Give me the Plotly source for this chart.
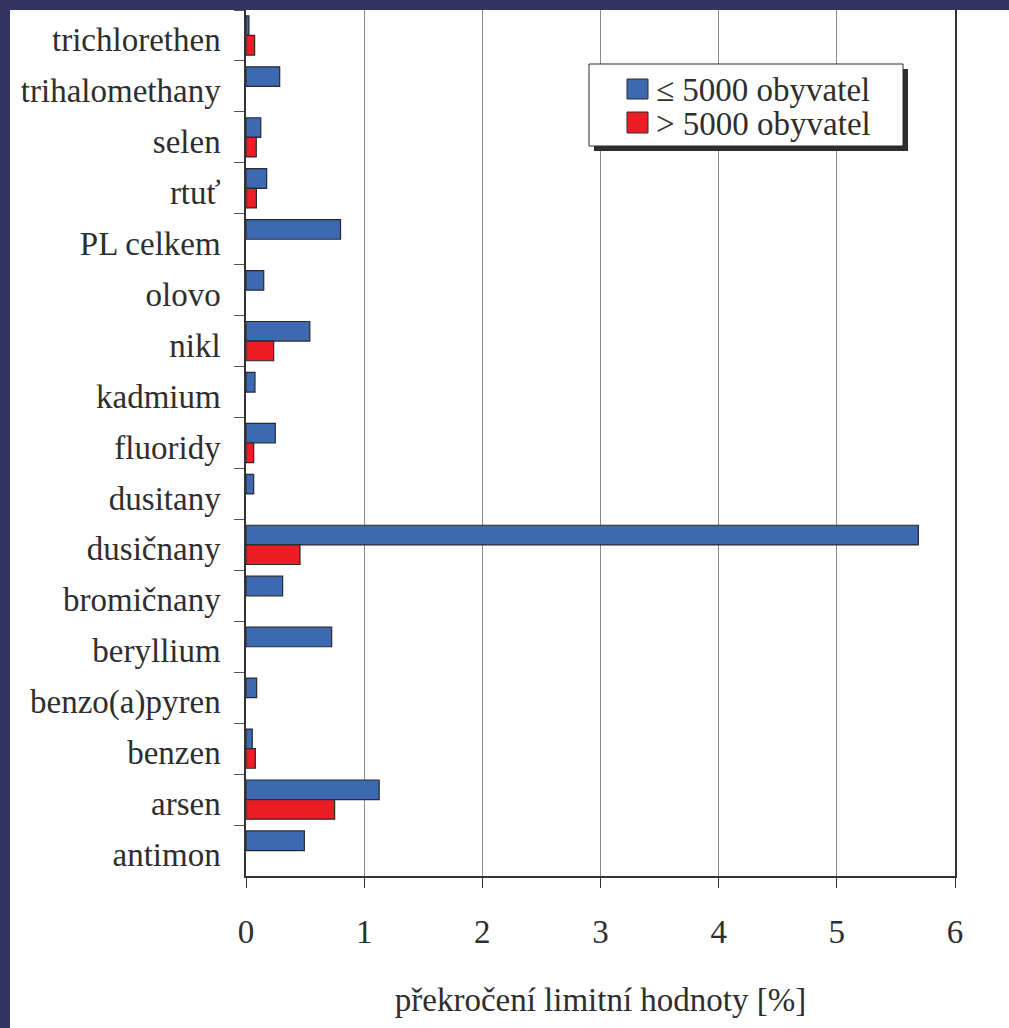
import plotly.graph_objects as go

categories = ["trichlorethen", "trihalomethany", "selen", "rtuť", "PL celkem", "olovo",
              "nikl", "kadmium", "fluoridy", "dusitany", "dusičnany", "bromičnany",
              "beryllium", "benzo(a)pyren", "benzen", "arsen", "antimon"]
small_towns = [0.025, 0.285, 0.125, 0.175, 0.80, 0.15, 0.54, 0.076, 0.248, 0.065,
               5.69, 0.31, 0.725, 0.09, 0.053, 1.127, 0.494]
large_towns = [0.073, None, 0.087, 0.088, None, None, 0.234, None, 0.065, None,
               0.457, None, None, None, 0.079, 0.75, None]
series_names = ["≤ 5000 obyvatel", "> 5000 obyvatel"]
x_ticks = [0, 1, 2, 3, 4, 5, 6]
x_title = "překročení limitní hodnoty [%]"

BLUE = "#3d68b2"
RED = "#ee1d25"
NAVY = "#33345f"
TEXT = "#2e2e2e"
FONT = "Times New Roman, Liberation Serif, serif"
FS = 33

W, H = 1009, 1028
ML, MR, MT, MB = 246, 54, 10, 152
PW, PH = W - ML - MR, H - MT - MB


def px(x):
    return (x - ML) / PW


def py(y):
    return (H - MB - y) / PH


fig = go.Figure()
fig.add_trace(go.Bar(y=categories, x=small_towns, orientation="h", name=series_names[0],
                     marker=dict(color=BLUE, line=dict(color="#2a2a2a", width=1.2)),
                     showlegend=False))
fig.add_trace(go.Bar(y=categories, x=large_towns, orientation="h", name=series_names[1],
                     marker=dict(color=RED, line=dict(color="#2a2a2a", width=1.2)),
                     showlegend=False))

shapes = [
    # navy slide frame
    dict(type="rect", xref="paper", yref="paper", x0=px(0), x1=px(W), y0=py(0), y1=py(10),
         fillcolor=NAVY, line=dict(width=0), layer="above"),
    dict(type="rect", xref="paper", yref="paper", x0=px(0), x1=px(10), y0=py(0), y1=py(H),
         fillcolor=NAVY, line=dict(width=0), layer="above"),
    # legend shadow and box
    dict(type="rect", xref="paper", yref="paper", x0=px(594), x1=px(908), y0=py(69), y1=py(151),
         fillcolor="#2f2f2f", line=dict(width=0), layer="above"),
    dict(type="rect", xref="paper", yref="paper", x0=px(589), x1=px(903), y0=py(64), y1=py(146),
         fillcolor="white", line=dict(color="#2a2a2a", width=1), layer="above"),
    # legend swatches
    dict(type="rect", xref="paper", yref="paper", x0=px(627), x1=px(648), y0=py(79), y1=py(99),
         fillcolor=BLUE, line=dict(color="#2a2a2a", width=1), layer="above"),
    dict(type="rect", xref="paper", yref="paper", x0=px(627), x1=px(648), y0=py(112), y1=py(133),
         fillcolor=RED, line=dict(color="#2a2a2a", width=1), layer="above"),
]
annotations = [
    dict(xref="paper", yref="paper", x=px(654), y=py(90), text=series_names[0], showarrow=False,
         xanchor="left", yanchor="middle", font=dict(family=FONT, size=FS, color=TEXT)),
    dict(xref="paper", yref="paper", x=px(654), y=py(124), text=series_names[1], showarrow=False,
         xanchor="left", yanchor="middle", font=dict(family=FONT, size=FS, color=TEXT)),
]

fig.update_layout(
    width=W, height=H,
    margin=dict(l=ML, r=MR, t=MT, b=MB, pad=0),
    paper_bgcolor="white", plot_bgcolor="white",
    barmode="group", bargap=0.23, bargroupgap=0,
    font=dict(family=FONT, size=FS, color=TEXT),
    shapes=shapes, annotations=annotations,
    xaxis=dict(range=[0, 6], tickvals=x_ticks, showgrid=True, gridcolor="#8a8a8a", gridwidth=1,
               zeroline=False, showline=True, linecolor="#333333", linewidth=1.5,
               ticks="outside", ticklen=10, tickcolor="#333333", tickwidth=1,
               ticklabelstandoff=16,
               tickfont=dict(family=FONT, size=FS, color=TEXT),
               title=dict(text=x_title, standoff=39, font=dict(family=FONT, size=FS, color=TEXT))),
    yaxis=dict(autorange="reversed", type="category", showgrid=False, showline=True,
               linecolor="#333333", linewidth=1.5, mirror=True,
               ticks="outside", ticklen=10, tickson="boundaries", tickcolor="#555555",
               ticklabelstandoff=17, ticklabelshift=-4,
               tickfont=dict(family=FONT, size=FS, color=TEXT)),
)

fig.write_html("out.html", config={"displayModeBar": False},
               post_script="document.body.style.margin='0';")
